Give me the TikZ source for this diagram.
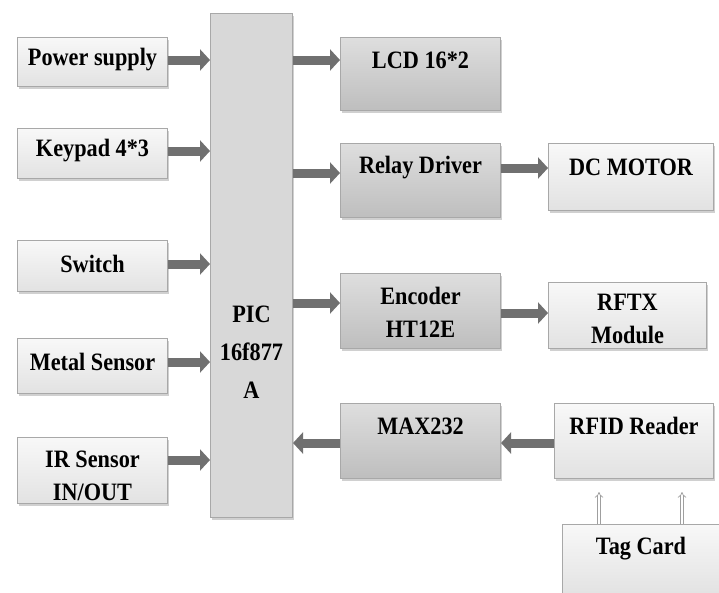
\documentclass[tikz,border=0pt]{standalone}
\usepackage{fontspec}
\setmainfont{Liberation Serif}
\usetikzlibrary{arrows.meta,shadows,calc}
\definecolor{arrowgray}{HTML}{707070}
\definecolor{boxedge}{HTML}{A8A8A8}
\definecolor{lighttop}{HTML}{F8F8F8}
\definecolor{lightbot}{HTML}{E2E2E2}
\definecolor{darktop}{HTML}{DEDEDE}
\definecolor{darkbot}{HTML}{BEBEBE}
\definecolor{picfill}{HTML}{D8D8D8}
\newcommand\nar[1]{\scalebox{0.89}[1]{#1}}
\begin{document}
\begin{tikzpicture}[x=1pt,y=-1pt,
  txt/.style={font=\bfseries\fontsize{25}{33}\selectfont, align=center, inner sep=0pt},
  boxbase/.style={draw=boxedge, line width=1pt, anchor=north west, inner sep=0pt,
    drop shadow={shadow xshift=1.5pt, shadow yshift=-2pt, opacity=0.3, fill=black!60}},
  lbox/.style={boxbase, top color=lighttop, bottom color=lightbot},
  dbox/.style={boxbase, top color=darktop, bottom color=darkbot},
  picbox/.style={boxbase, fill=picfill},
  bigarrow/.style={draw=arrowgray, line width=9pt, -{Triangle[length=10pt,width=21pt]}},
  thinarrow/.style={draw=gray!75, line width=0.7pt, double=white, double distance=2.2pt, -{Implies}}
]
\useasboundingbox (0,0) rectangle (719,592);
\fill[white] (0,0) rectangle (719,592);

% left inputs
\node[lbox, minimum width=150, minimum height=49] (ps) at (17,37) {};
\node[txt] at (ps.north |- 0,60) {\nar{Power supply}};
\node[lbox, minimum width=150, minimum height=50] (kp) at (17,128) {};
\node[txt] at (kp.north |- 0,151) {\nar{Keypad 4*3}};
\node[lbox, minimum width=150, minimum height=51] (sw) at (17,240) {};
\node[txt] at (sw.north |- 0,264) {\nar{Switch}};
\node[lbox, minimum width=150, minimum height=55] (ms) at (17,338) {};
\node[txt] at (ms.north |- 0,362) {\nar{Metal Sensor}};
\node[lbox, minimum width=150, minimum height=66] (ir) at (17,437) {};
\node[txt] at (ir.north |- 0,476) {\nar{IR Sensor}\\\nar{IN/OUT}};

% PIC
\node[picbox, minimum width=82, minimum height=504] (pic) at (210,13) {};
\node[txt, font=\bfseries\fontsize{25}{38}\selectfont] at (pic.north |- 0,352) {\nar{PIC}\\\nar{16f877}\\\nar{A}};

% middle column
\node[dbox, minimum width=160, minimum height=73] (lcd) at (340,37) {};
\node[txt] at (lcd.north |- 0,60) {\nar{LCD 16*2}};
\node[dbox, minimum width=160, minimum height=74] (relay) at (340,143) {};
\node[txt] at (relay.north |- 0,168) {\nar{Relay Driver}};
\node[dbox, minimum width=160, minimum height=75] (enc) at (340,273) {};
\node[txt] at (enc.north |- 0,312) {\nar{Encoder}\\\nar{HT12E}};
\node[dbox, minimum width=160, minimum height=75] (max) at (340,403) {};
\node[txt] at (max.north |- 0,426) {\nar{MAX232}};

% right column
\node[lbox, minimum width=165, minimum height=67] (dc) at (548,143) {};
\node[txt] at (dc.north |- 0,167) {\nar{DC MOTOR}};
\node[lbox, minimum width=158, minimum height=66] (rftx) at (548,282) {};
\node[txt] at (rftx.north |- 0,319) {\nar{RFTX}\\\nar{Module}};
\node[lbox, minimum width=159, minimum height=75] (rfid) at (554,403) {};
\node[txt] at (rfid.north |- 0,426) {\nar{RFID Reader}};
\node[lbox, minimum width=165, minimum height=71] (tag) at (562,524) {};
\node[txt] at (641,549) {\nar{Tag Card}};

% input arrows
\draw[bigarrow] (ps.east |- 0,60) -- (pic.west |- 0,60);
\draw[bigarrow] (kp.east |- 0,151) -- (pic.west |- 0,151);
\draw[bigarrow] (sw.east |- 0,264) -- (pic.west |- 0,264);
\draw[bigarrow] (ms.east |- 0,362) -- (pic.west |- 0,362);
\draw[bigarrow] (ir.east |- 0,460) -- (pic.west |- 0,460);

% output arrows
\draw[bigarrow] (pic.east |- 0,60) -- (lcd.west |- 0,60);
\draw[bigarrow] (pic.east |- 0,173) -- (relay.west |- 0,173);
\draw[bigarrow] (pic.east |- 0,303) -- (enc.west |- 0,303);
\draw[bigarrow] (max.west |- 0,443) -- (pic.east |- 0,443);
\draw[bigarrow] (relay.east |- 0,168) -- (dc.west |- 0,168);
\draw[bigarrow] (enc.east |- 0,313) -- (rftx.west |- 0,313);
\draw[bigarrow] (rfid.west |- 0,443) -- (max.east |- 0,443);

% tag card links
\coordinate (t1) at ($(tag.north west)+(37,0)$);
\coordinate (t2) at ($(tag.north west)+(120,0)$);
\draw[thinarrow] (t1) -- (t1 |- 0,492);
\draw[thinarrow] (t2) -- (t2 |- 0,492);
\end{tikzpicture}
\end{document}
